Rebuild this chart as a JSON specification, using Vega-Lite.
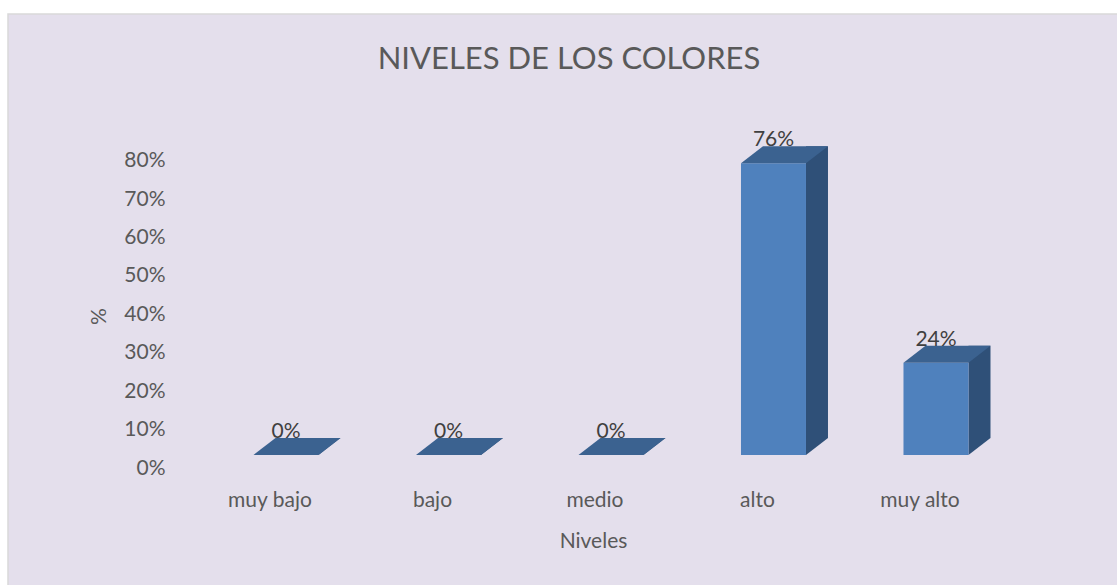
{
  "$schema": "https://vega.github.io/schema/vega-lite/v6.json",
  "width": 1110,
  "height": 572,
  "autosize": {"type": "none"},
  "padding": {"left": 8, "top": 14, "right": 0, "bottom": 0},
  "background": "#FFFFFF",
  "config": {
    "view": {"fill": "#E4DFEC", "stroke": "#D9D9D9", "strokeWidth": 1.5},
    "font": "Lato"
  },
  "title": {
    "text": "NIVELES DE LOS COLORES",
    "font": "Lato",
    "fontSize": 31,
    "fontWeight": "normal",
    "color": "#595959",
    "anchor": "middle",
    "frame": "group",
    "orient": "top",
    "baseline": "alphabetic",
    "offset": 0,
    "dx": 6,
    "dy": 86
  },
  "data": {
    "values": [
      {"nivel": "muy bajo", "pct": 0},
      {"nivel": "bajo", "pct": 0},
      {"nivel": "medio", "pct": 0},
      {"nivel": "alto", "pct": 0.76},
      {"nivel": "muy alto", "pct": 0.24}
    ]
  },
  "encoding": {
    "x": {
      "field": "nivel",
      "type": "nominal",
      "sort": null,
      "scale": {"paddingInner": 0, "paddingOuter": 0.9154, "align": 0.6613},
      "axis": {
        "title": "Niveles",
        "orient": "bottom",
        "offset": -131,
        "domain": false,
        "ticks": false,
        "tickSize": 0,
        "grid": false,
        "labelAngle": 0,
        "labelPadding": 51,
        "labelBaseline": "alphabetic",
        "labelOffset": -16,
        "labelFont": "Lato",
        "labelFontSize": 21,
        "labelColor": "#595959",
        "titleFont": "Lato",
        "titleX": 585,
        "titleY": 92,
        "titleBaseline": "alphabetic",
        "titleAlign": "center",
        "titleFontSize": 21,
        "titleColor": "#595959",
        "titleFontWeight": "normal"
      }
    },
    "y": {
      "field": "pct",
      "type": "quantitative",
      "scale": {"domain": [-0.3411, 1.1484], "nice": false, "zero": false},
      "axis": {
        "title": "%",
        "values": [0, 0.1, 0.2, 0.3, 0.4, 0.5, 0.6, 0.7, 0.8],
        "format": ".0%",
        "domain": false,
        "ticks": false,
        "tickSize": 0,
        "grid": false,
        "offset": -157,
        "labelPadding": 0,
        "labelOffset": 13,
        "labelFont": "Lato",
        "labelFontSize": 21,
        "labelColor": "#595959",
        "labelBaseline": "middle",
        "titleFont": "Lato",
        "titleFontSize": 21,
        "titleColor": "#595959",
        "titleFontWeight": "normal",
        "titleX": -66,
        "titleY": 302,
        "titleAngle": -90,
        "titleAlign": "center",
        "titleBaseline": "middle"
      }
    }
  },
  "layer": [
    {
      "mark": {"type": "bar", "color": "#2F5078", "width": {"band": 0.1354}, "xOffset": 43.5, "yOffset": -17, "y2Offset": -17},
      "encoding": {
        "y2": {"datum": 0}
      }
    },
    {
      "mark": {"type": "point", "shape": "M 0.65 0 L 0.65 -0.34 L 1.09 -0.34 Z", "size": 10000, "filled": true, "color": "#2F5078", "opacity": 1, "strokeWidth": 0},
      "encoding": {
        "y": {"datum": 0, "type": "quantitative"}
      }
    },
    {
      "mark": {"type": "bar", "color": "#4F81BD", "width": {"band": 0.4}},
      "encoding": {
        "y2": {"datum": 0}
      }
    },
    {
      "mark": {"type": "point", "shape": "M -0.65 0 L 0.65 0 L 1.09 -0.34 L -0.21 -0.34 Z", "size": 10000, "filled": true, "color": "#3B6290", "opacity": 1, "strokeWidth": 0}
    },
    {
      "mark": {"type": "text", "baseline": "alphabetic", "dy": -17, "fontSize": 21, "color": "#404040", "font": "Lato"},
      "encoding": {
        "text": {"field": "pct", "type": "quantitative", "format": ".0%"}
      }
    }
  ]
}
